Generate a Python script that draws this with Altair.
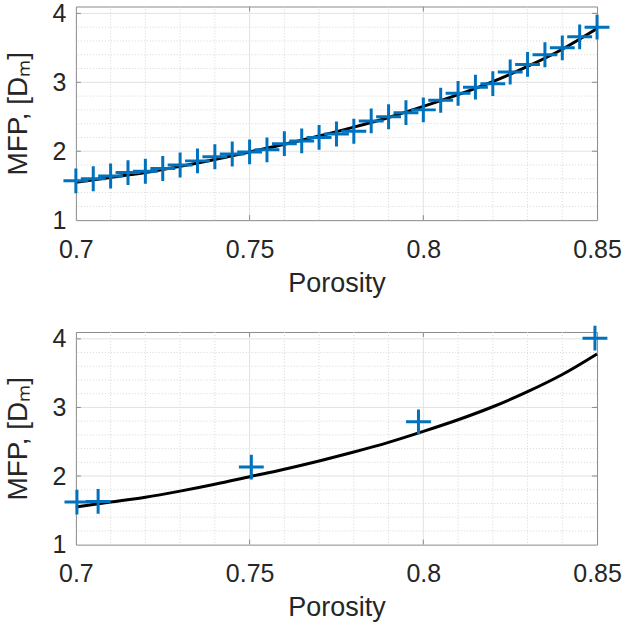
import altair as alt
import pandas as pd

# ---- data ----
top_x = [0.700, 0.705, 0.710, 0.715, 0.720, 0.725, 0.730, 0.735, 0.740, 0.745,
         0.750, 0.755, 0.760, 0.765, 0.770, 0.775, 0.780, 0.785, 0.790, 0.795,
         0.800, 0.805, 0.810, 0.815, 0.820, 0.825, 0.830, 0.835, 0.840, 0.845, 0.850]
top_y = [1.57, 1.60, 1.64, 1.69, 1.71, 1.75, 1.80, 1.86, 1.92, 1.96,
         1.99, 2.02, 2.11, 2.15, 2.20, 2.25, 2.29, 2.44, 2.50, 2.56,
         2.60, 2.74, 2.84, 2.93, 2.98, 3.15, 3.26, 3.40, 3.50, 3.66, 3.80]

bot_x = [0.7003, 0.7064, 0.7505, 0.7986, 0.8494]
bot_y = [1.62, 1.63, 2.13, 2.79, 4.01]

fit_x = [0.70, 0.71, 0.72, 0.73, 0.74, 0.75, 0.76, 0.77, 0.78, 0.79,
         0.80, 0.81, 0.82, 0.83, 0.84, 0.85]
fit_y = [1.55, 1.62, 1.69, 1.78, 1.88, 1.99, 2.10, 2.22, 2.35, 2.49,
         2.65, 2.82, 3.01, 3.23, 3.48, 3.78]

x_major = [0.75, 0.80]
x_minor = [0.71, 0.72, 0.73, 0.74, 0.76, 0.77, 0.78, 0.79, 0.81, 0.82, 0.83, 0.84]
y_major = [2, 3, 4]
y_minor = [1.2, 1.4, 1.6, 1.8, 2.2, 2.4, 2.6, 2.8, 3.2, 3.4, 3.6, 3.8]

x_ticks = [0.7, 0.75, 0.8, 0.85]
y_ticks = [1, 2, 3, 4]

FONT = "Liberation Sans"
TXT = "#262626"
BLUE = "#0072BD"
BOX = "#8a8a8a"
TICK_LEN = 5

xs = alt.Scale(domain=[0.7, 0.85], nice=False, zero=False)
ys = alt.Scale(domain=[1, 4.1], nice=False, zero=False)

xaxis = alt.Axis(values=x_ticks, format=".2~f", title="Porosity", grid=False,
                 ticks=False, domain=False, labelFontSize=25, titleFontSize=27,
                 labelFont=FONT, titleFont=FONT, labelColor=TXT, titleColor=TXT,
                 titleFontWeight="normal", labelFontWeight="normal",
                 labelPadding=17, titlePadding=8, labelFlush=False)
yaxis = alt.Axis(values=y_ticks, title="MFP, [Dₘ]", grid=False,
                 ticks=False, domain=False, labelFontSize=25, titleFontSize=28,
                 labelFont=FONT, titleFont=FONT, labelColor=TXT, titleColor=TXT,
                 titleFontWeight="normal", labelFontWeight="normal",
                 labelPadding=10, titlePadding=20, labelFlush=False)

X = alt.X("x:Q", scale=xs, axis=xaxis)
Y = alt.Y("y:Q", scale=ys, axis=yaxis)

fit_df = pd.DataFrame({"x": fit_x, "y": fit_y})
xmaj_df = pd.DataFrame({"x": x_major})
xmin_df = pd.DataFrame({"x": x_minor})
ymaj_df = pd.DataFrame({"y": y_major})
ymin_df = pd.DataFrame({"y": y_minor})

PLUS = "M-1,0H1M0,-1V1"


def panel(px, py, w, h):
    pts = pd.DataFrame({"x": px, "y": py})
    gx_min = alt.Chart(xmin_df).mark_rule(color="#d6d6d6", strokeWidth=1, strokeDash=[1, 2]).encode(x=X)
    gy_min = alt.Chart(ymin_df).mark_rule(color="#d6d6d6", strokeWidth=1, strokeDash=[1, 2]).encode(y=Y)
    gx_maj = alt.Chart(xmaj_df).mark_rule(color="#e2e2e2", strokeWidth=1).encode(x=X)
    gy_maj = alt.Chart(ymaj_df).mark_rule(color="#e2e2e2", strokeWidth=1).encode(y=Y)
    # inward tick marks on all four sides of the box
    tb = alt.Chart(xmaj_df).mark_rule(color=BOX, strokeWidth=1).encode(
        x=X, y=alt.value(h), y2=alt.value(h - TICK_LEN))
    tt = alt.Chart(xmaj_df).mark_rule(color=BOX, strokeWidth=1).encode(
        x=X, y=alt.value(0), y2=alt.value(TICK_LEN))
    tl = alt.Chart(ymaj_df).mark_rule(color=BOX, strokeWidth=1).encode(
        y=Y, x=alt.value(0), x2=alt.value(TICK_LEN))
    tr = alt.Chart(ymaj_df).mark_rule(color=BOX, strokeWidth=1).encode(
        y=Y, x=alt.value(w), x2=alt.value(w - TICK_LEN))
    line = alt.Chart(fit_df).mark_line(color="black", strokeWidth=3, interpolate="monotone").encode(x=X, y=Y)
    marks = alt.Chart(pts).mark_point(shape=PLUS, size=620, filled=False, stroke=BLUE,
                                      strokeWidth=3, opacity=1).encode(x=X, y=Y)
    return alt.layer(gx_min, gy_min, gx_maj, gy_maj, tb, tt, tl, tr, line, marks).properties(width=w, height=h)


top = panel(top_x, top_y, 522, 214)
bottom = panel(bot_x, bot_y, 522, 213)

chart = alt.vconcat(top, bottom, spacing=112, bounds="flush").properties(
    padding={"left": 3, "top": 0, "right": 5, "bottom": 5},
    background="white",
).configure_view(stroke=BOX, strokeWidth=1)

chart.save("out.html", embed_options={"renderer": "svg", "actions": False})
